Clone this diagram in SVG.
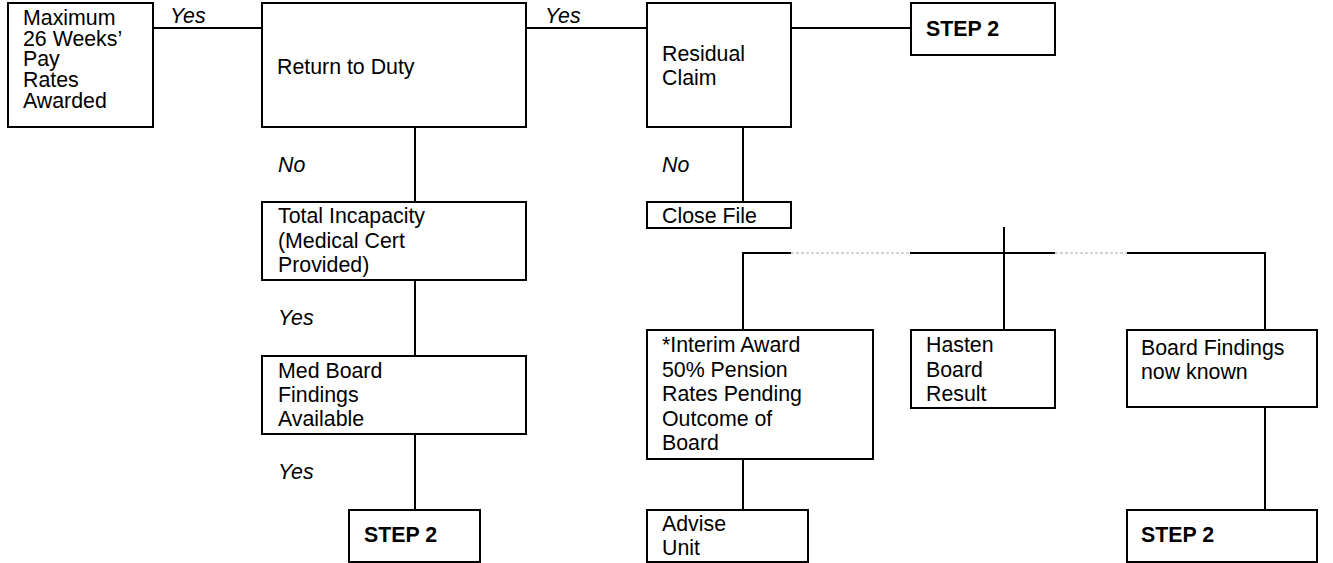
<svg xmlns="http://www.w3.org/2000/svg" width="1333" height="563" viewBox="0 0 1333 563">
<style>
.box{fill:#fff;stroke:#000;stroke-width:2}
.t{font-family:"Liberation Sans",Arial,sans-serif;font-size:21.33px;fill:#000}
.b{font-weight:bold}
.lbl{font-family:"Liberation Sans",Arial,sans-serif;font-size:21.33px;font-style:italic;fill:#000}
.c{stroke:#000;stroke-width:2;fill:none}
.d{stroke:#c8c8c8;stroke-width:1.5;stroke-dasharray:3 2;fill:none}
</style>
<rect width="1333" height="563" fill="#fff"/>
<g id="connectors">
<line class="c" x1="153" y1="28" x2="262" y2="28"/>
<line class="c" x1="526" y1="28" x2="647" y2="28"/>
<line class="c" x1="791" y1="28" x2="911" y2="28"/>
<line class="c" x1="415" y1="127" x2="415" y2="202"/>
<line class="c" x1="415" y1="280" x2="415" y2="356"/>
<line class="c" x1="415" y1="434" x2="415" y2="510"/>
<line class="c" x1="743" y1="127" x2="743" y2="202"/>
<polyline class="c" points="743,330 743,253 791,253"/>
<line class="d" x1="791" y1="253" x2="910" y2="253"/>
<line class="c" x1="910" y1="253" x2="1055" y2="253"/>
<line class="d" x1="1055" y1="253" x2="1127" y2="253"/>
<polyline class="c" points="1127,253 1265,253 1265,330"/>
<line class="c" x1="1004" y1="227" x2="1004" y2="330"/>
<line class="c" x1="743" y1="459" x2="743" y2="510"/>
<line class="c" x1="1265" y1="407" x2="1265" y2="510"/>
<text class="lbl" x="170" y="23">Yes</text>
<text class="lbl" x="545" y="23">Yes</text>
<text class="lbl" x="278" y="172">No</text>
<text class="lbl" x="662" y="172">No</text>
<text class="lbl" x="278" y="325">Yes</text>
<text class="lbl" x="278" y="479">Yes</text>
</g>
<g id="max26">
<rect class="box" x="8" y="3" width="145" height="124"/>
<text class="t" x="23" y="25">Maximum</text>
<text class="t" x="23" y="45.7">26 Weeks’</text>
<text class="t" x="23" y="66.4">Pay</text>
<text class="t" x="23" y="87">Rates</text>
<text class="t" x="23" y="107.7">Awarded</text>
</g>
<g id="returnDuty">
<rect class="box" x="262" y="3" width="264" height="124"/>
<text class="t" x="277" y="74">Return to Duty</text>
</g>
<g id="residual">
<rect class="box" x="647" y="3" width="144" height="124"/>
<text class="t" x="662" y="61">Residual</text>
<text class="t" x="662" y="85">Claim</text>
</g>
<g id="step2top">
<rect class="box" x="911" y="3" width="144" height="52"/>
<text class="t b" x="926" y="36">STEP 2</text>
</g>
<g id="totalIncap">
<rect class="box" x="262" y="202" width="264" height="78"/>
<text class="t" x="278" y="223">Total Incapacity</text>
<text class="t" x="278" y="248">(Medical Cert</text>
<text class="t" x="278" y="272">Provided)</text>
</g>
<g id="closeFile">
<rect class="box" x="647" y="202" width="144" height="26"/>
<text class="t" x="662" y="223">Close File</text>
</g>
<g id="medBoard">
<rect class="box" x="262" y="356" width="264" height="78"/>
<text class="t" x="278" y="378">Med Board</text>
<text class="t" x="278" y="402">Findings</text>
<text class="t" x="278" y="426">Available</text>
</g>
<g id="step2left">
<rect class="box" x="349" y="510" width="131" height="52"/>
<text class="t b" x="364" y="542">STEP 2</text>
</g>
<g id="interim">
<rect class="box" x="647" y="330" width="226" height="129"/>
<text class="t" x="662" y="352">*Interim Award</text>
<text class="t" x="662" y="376.5">50% Pension</text>
<text class="t" x="662" y="401">Rates Pending</text>
<text class="t" x="662" y="425.5">Outcome of</text>
<text class="t" x="662" y="450">Board</text>
</g>
<g id="advise">
<rect class="box" x="647" y="510" width="161" height="52"/>
<text class="t" x="662" y="531">Advise</text>
<text class="t" x="662" y="555">Unit</text>
</g>
<g id="hasten">
<rect class="box" x="911" y="330" width="144" height="78"/>
<text class="t" x="926" y="352">Hasten</text>
<text class="t" x="926" y="377">Board</text>
<text class="t" x="926" y="401">Result</text>
</g>
<g id="boardFindings">
<rect class="box" x="1127" y="330" width="190" height="77"/>
<text class="t" x="1141" y="355">Board Findings</text>
<text class="t" x="1141" y="379">now known</text>
</g>
<g id="step2right">
<rect class="box" x="1127" y="510" width="190" height="52"/>
<text class="t b" x="1141" y="542">STEP 2</text>
</g>
</svg>
